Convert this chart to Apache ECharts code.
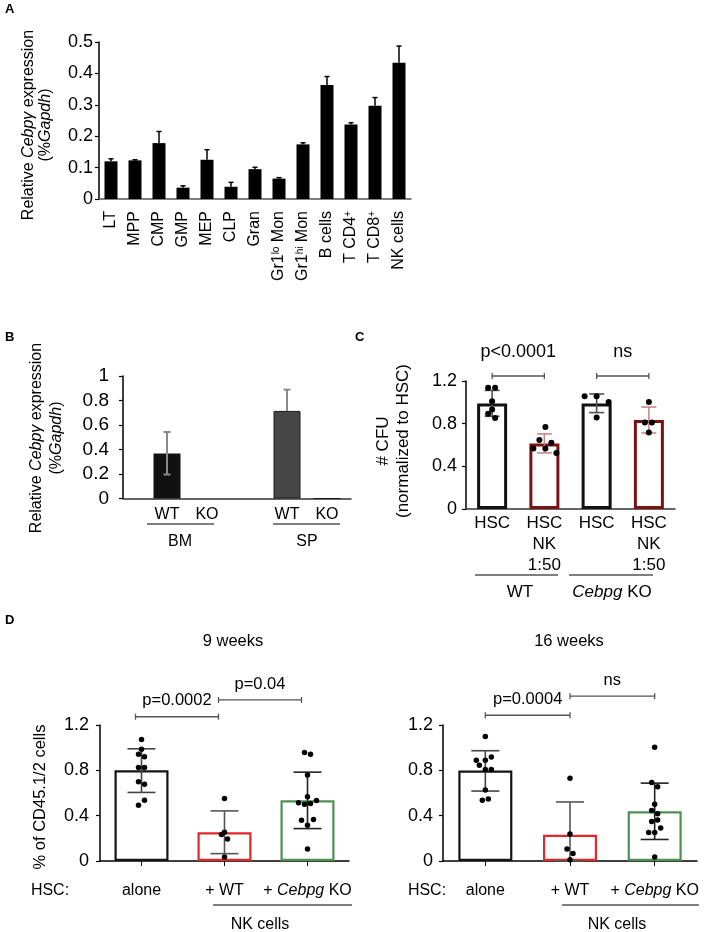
<!DOCTYPE html>
<html>
<head>
<meta charset="utf-8">
<script src="https://cdn.jsdelivr.net/npm/echarts@6/dist/echarts.min.js"></script>
<style>
html,body{margin:0;padding:0;background:#fff;}
#chart{width:708px;height:932px;}
</style>
</head>
<body>
<div id="chart"></div>
<script>
// ---------------- DATA ----------------
// Panel A
const catsA = ['LT','MPP','CMP','GMP','MEP','CLP','Gran','Gr1{s|lo} Mon','Gr1{s|hi} Mon','B cells','T CD4{s|+}','T CD8{s|+}','NK cells'];
const meanA = [0.120,0.123,0.178,0.036,0.125,0.039,0.095,0.065,0.174,0.363,0.237,0.297,0.434];
const upperA = [0.128,0.125,0.215,0.042,0.157,0.053,0.101,0.068,0.179,0.390,0.243,0.323,0.487];
const ticksA = {min:0, max:0.5, interval:0.1};

// Panel B
const catsB = ['WT','KO','','WT','KO'];
const groupsB = ['BM','SP'];
const meanB = [0.367, 0, null, 0.715, 0];
const upperB = [0.543, null, null, 0.889, null];
const lowerB = [0.196, null, null, null, null];
const ticksB = {min:0, max:1, interval:0.2};

// Panel C
const catsC = ['HSC','HSC\nNK\n1:50','HSC','HSC\nNK\n1:50'];
const groupsC = ['WT','{i|Cebpg} KO'];
const meanC = [0.99, 0.615, 0.99, 0.835];
const lowC  = [0.869, 0.526, 0.904, 0.713];
const highC = [1.112, 0.704, 1.078, 0.956];
const ptsC = [
  [1.137,1.137,1.009,0.932,0.894,0.853],
  [0.769,0.648,0.620,0.567,0.567,0.526],
  [1.056,1.056,1.003,0.857],
  [1.003,0.810,0.810,0.717]
];
const bracketsC = [[0,1],[2,3]];
const bracketTextC = ['p<0.0001','ns'];
const ticksC = {min:0, max:1.2, interval:0.4};

// Panel D
const catsD = ['alone','+ WT','+ {i|Cebpg} KO'];
const titlesD = ['9 weeks','16 weeks'];
const meanD9 = [0.800, 0.254, 0.536];
const lowD9  = [0.605, 0.065, 0.286];
const highD9 = [0.990, 0.442, 0.784];
const ptsD9 = [
  [1.073,0.985,0.943,0.920,0.826,0.826,0.699,0.678,0.537,0.492],
  [0.552,0.254,0.233,0.195,0.035],
  [0.958,0.943,0.758,0.566,0.513,0.501,0.507,0.534,0.360,0.366,0.316,0.106]
];
const meanD16 = [0.798, 0.231, 0.438];
const lowD16  = [0.617, 0.000, 0.190];
const highD16 = [0.973, 0.521, 0.687];
const ptsD16 = [
  [1.098,0.888,0.888,0.917,0.845,0.807,0.807,0.626,0.536,0.548],
  [0.731,0.239,0.105,0.067,0.012],
  [1.004,0.693,0.655,0.501,0.445,0.417,0.349,0.362,0.292,0.251,0.251,0.035]
];
const bracketsD = [[0,1],[1,2]];
const bracketTextD9 = ['p=0.0002','p=0.04'];
const bracketTextD16 = ['p=0.0004','ns'];
const ticksD = {min:0, max:1.2, interval:0.4};

// ---------------- STYLE (jitter, colours, levels) ----------------
const jitC = [[-4,3,0,0,-4,3],[1,-5,7,-11,1,12],[-12,0,12,0],[0,-4,3,0]];
const jitD9 = [[0,0,-3,3,-3,3,-3,3,3,-3],[0,0,-3,3,0],[-3,3,0,0,-9,-3,3,9,-6,6,0,0]];
const jitD16 = [[0,-9,0,6,-6,0,6,0,-3,3],[0,0,-3,3,0],[0,-3,3,0,-3,3,-3,3,6,-6,0,0]];
const colB = ['#111','#111','#111','#464646','#464646'];
const borderB = [0,0,0,1,1];
const colC = ['#111','#7a1214','#111','#7a1214'];
const errColC = ['#505050','#c98686','#505050','#c98686'];
const colD = ['#141414','#e2262c','#4f9153'];
const errColD = ['#444','#555','#222'];
const bracketLevelC = [1.247, 1.247];
const bracketLevelD9 = [1.273, 1.421];
const bracketLevelD16 = [1.286, 1.454];

const FF = "'Liberation Sans', Arial, sans-serif";

// ---------------- HELPERS ----------------
function whisker(cap, colors, lw) {
  return function (params, api) {
    const i = api.value(0), from = api.value(1), to = api.value(2), hasCap = api.value(3);
    const p1 = api.coord([i, from]), p2 = api.coord([i, to]);
    const c = colors[i % colors.length];
    const ch = [{type:'line', shape:{x1:p1[0],y1:p1[1],x2:p2[0],y2:p2[1]}, style:{stroke:c,lineWidth:lw}}];
    if (hasCap) ch.push({type:'line', shape:{x1:p2[0]-cap/2,y1:p2[1],x2:p2[0]+cap/2,y2:p2[1]}, style:{stroke:c,lineWidth:lw}});
    return {type:'group', children:ch};
  };
}
function bracket(texts, fontSize, dx, gap, tickH) {
  return function (params, api) {
    const a = api.value(0), y = api.value(1), b = api.value(2);
    const p1 = api.coord([a, y]), p2 = api.coord([b, y]);
    const x1 = p1[0] + dx, x2 = p2[0] + dx, yy = p1[1];
    const st = {stroke:'#555', lineWidth:1.3};
    return {type:'group', children:[
      {type:'line', shape:{x1:x1,y1:yy,x2:x2,y2:yy}, style:st},
      {type:'line', shape:{x1:x1,y1:yy-tickH/2,x2:x1,y2:yy+tickH/2}, style:st},
      {type:'line', shape:{x1:x2,y1:yy-tickH/2,x2:x2,y2:yy+tickH/2}, style:st},
      {type:'text', x:(x1+x2)/2, y:yy-gap, style:{text:texts[params.dataIndex], fill:'#000', fontSize:fontSize, fontFamily:FF, align:'center', verticalAlign:'middle'}}
    ]};
  };
}
function whiskerData(mean, lo, hi) {
  const d = [];
  mean.forEach((m, i) => {
    if (m == null) return;
    if (hi && hi[i] != null) d.push([i, m, hi[i], 1]);
    if (lo && lo[i] != null) d.push([i, m, lo[i], 1]);
  });
  return d;
}
function dotData(pts, jit) {
  const d = [];
  pts.forEach((arr, i) => arr.forEach((v, k) => d.push({value:[i, v], symbolOffset:[jit[i][k], 0]})));
  return d;
}
function yAxisCfg(grid, t, fs, margin) {
  return {type:'value', gridIndex:grid, min:t.min, max:t.max, interval:t.interval,
    axisLine:{show:true, lineStyle:{color:'#000', width:1.5}},
    axisTick:{show:true, length:4, lineStyle:{color:'#000', width:1.2}},
    axisLabel:{fontSize:fs, color:'#000', margin:margin, fontFamily:FF},
    splitLine:{show:false}};
}

// ---------------- OPTION ----------------
const grids = [
  {left:99, top:42, width:312, height:157},      // A
  {left:123, top:376, width:228, height:122.5},  // B frame
  {left:147, top:376, width:200, height:122.5},  // B bars
  {left:466, top:381, width:209, height:128},    // C
  {left:100, top:725, width:249, height:136},    // D 9 weeks
  {left:443, top:725, width:254, height:136}     // D 16 weeks
];

const xAxes = [
  {type:'category', gridIndex:0, data:catsA,
    axisLine:{lineStyle:{color:'#555', width:1.5}}, axisTick:{show:false},
    axisLabel:{interval:0, rotate:90, margin:12, color:'#000', fontSize:16, fontFamily:FF,
      rich:{s:{fontSize:10, verticalAlign:'top', fontFamily:FF, color:'#000'}}}},
  {type:'value', gridIndex:1, min:0, max:1, axisLine:{show:true, lineStyle:{color:'#333', width:1.5}},
    axisTick:{show:false}, axisLabel:{show:false}, splitLine:{show:false}},
  {type:'category', gridIndex:2, data:catsB, axisLine:{show:false}, axisTick:{show:false},
    axisLabel:{interval:0, margin:8, fontSize:16, color:'#000', fontFamily:FF}},
  {type:'category', gridIndex:3, data:catsC, axisLine:{lineStyle:{color:'#333', width:1.5}}, axisTick:{show:false},
    axisLabel:{interval:0, margin:4, fontSize:17, lineHeight:21, color:'#000', fontFamily:FF}},
  {type:'category', gridIndex:4, data:catsD, axisLine:{lineStyle:{color:'#000', width:1.5}},
    axisTick:{show:true, alignWithLabel:true, length:5, lineStyle:{color:'#000'}},
    axisLabel:{interval:0, margin:22, fontSize:16, color:'#000', fontFamily:FF,
      rich:{i:{fontStyle:'italic', fontSize:16, fontFamily:FF, color:'#000'}}}},
  {type:'category', gridIndex:5, data:catsD, axisLine:{lineStyle:{color:'#000', width:1.5}},
    axisTick:{show:true, alignWithLabel:true, length:5, lineStyle:{color:'#000'}},
    axisLabel:{interval:0, margin:22, fontSize:16, color:'#000', fontFamily:FF,
      rich:{i:{fontStyle:'italic', fontSize:16, fontFamily:FF, color:'#000'}}}}
];

const yAxes = [
  yAxisCfg(0, ticksA, 18, 6),
  yAxisCfg(1, ticksB, 19, 14),
  {type:'value', gridIndex:2, min:ticksB.min, max:ticksB.max, show:false},
  yAxisCfg(3, ticksC, 18, 9),
  yAxisCfg(4, ticksD, 18, 11),
  yAxisCfg(5, ticksD, 18, 10)
];

function panelSeries(xi, mean, lo, hi, pts, jit, borders, errCols, barW, bw, cap, dotSize, bLevels, bTexts, bFont, bDx, bGap) {
  return [
    {type:'bar', xAxisIndex:xi, yAxisIndex:xi, barWidth:barW, z:2,
      data: mean.map((m, i) => ({value:m, itemStyle:{color:'#fff', borderColor:borders[i], borderWidth:bw}}))},
    {type:'custom', xAxisIndex:xi, yAxisIndex:xi, z:3, renderItem: whisker(cap, errCols, 1.6),
      data: whiskerData(mean, lo, hi)},
    {type:'scatter', xAxisIndex:xi, yAxisIndex:xi, z:4, symbolSize:dotSize, itemStyle:{color:'#000', opacity:1},
      data: dotData(pts, jit)},
    {type:'custom', xAxisIndex:xi, yAxisIndex:xi, z:5, clip:false, renderItem: bracket(bTexts, bFont, bDx, bGap, 6),
      data: (xi === 3 ? bracketsC : bracketsD).map((p, k) => [p[0], bLevels[k], p[1]])}
  ];
}

const series = [
  {type:'bar', xAxisIndex:0, yAxisIndex:0, barWidth:13, itemStyle:{color:'#000'}, data:meanA, z:2},
  {type:'custom', xAxisIndex:0, yAxisIndex:0, z:3, renderItem: whisker(5, ['#000'], 1.5),
    data: whiskerData(meanA, null, upperA)},
  {type:'bar', xAxisIndex:2, yAxisIndex:2, barWidth:27, z:2,
    data: meanB.map((m, i) => m == null ? '-' : ({value:m, itemStyle:{color:colB[i], borderColor:'#1a1a1a', borderWidth:borderB[i]}}))},
  {type:'custom', xAxisIndex:2, yAxisIndex:2, z:3, renderItem: whisker(7, ['#8a8a8a'], 2),
    data: whiskerData(meanB, lowerB, upperB)}
].concat(
  panelSeries(3, meanC, lowC, highC, ptsC, jitC, colC, errColC, 30, 3, 15, 6, bracketLevelC, bracketTextC, 18, 0, 24),
  panelSeries(4, meanD9, lowD9, highD9, ptsD9, jitD9, colD, errColD, 54, 2.2, 28, 5.5, bracketLevelD9, bracketTextD9, 16.5, -6, 16),
  panelSeries(5, meanD16, lowD16, highD16, ptsD16, jitD16, colD, errColD, 54, 2.2, 28, 5.5, bracketLevelD16, bracketTextD16, 16.5, 0, 16)
);

function txt(x, y, text, size, extra) {
  return {type:'text', x:x, y:y, style:Object.assign({text:text, fill:'#000', fontSize:size, fontFamily:FF, align:'center', verticalAlign:'middle'}, extra || {})};
}
function rtxt(x, y, text, size, lh) {
  return {type:'text', x:x, y:y, rotation:Math.PI/2, style:{text:text, fill:'#000', fontSize:size, fontFamily:FF, align:'center', verticalAlign:'middle', lineHeight:lh,
    rich:{n:{fontSize:size, fontFamily:FF, lineHeight:lh, fill:'#000'}, i:{fontSize:size, fontFamily:FF, fontStyle:'italic', lineHeight:lh, fill:'#000'}}}};
}
function hline(x1, x2, y) {
  return {type:'line', shape:{x1:x1, y1:y, x2:x2, y2:y}, style:{stroke:'#000', lineWidth:1.2}};
}
const richI = {i:{fontStyle:'italic', fontSize:17, fontFamily:FF, fill:'#000'}, n:{fontSize:17, fontFamily:FF, fill:'#000'}};

const graphic = [
  txt(5, 9, 'A', 13, {fontWeight:'bold', align:'left'}),
  txt(5, 337, 'B', 13, {fontWeight:'bold', align:'left'}),
  txt(355, 337, 'C', 13, {fontWeight:'bold', align:'left'}),
  txt(5, 620, 'D', 13, {fontWeight:'bold', align:'left'}),
  rtxt(37, 125, '{n|Relative }{i|Cebpγ}{n| expression}\n{n|(%}{i|Gapdh}{n|)}', 16, 17),
  rtxt(47, 438, '{n|Relative }{i|Cebpγ}{n| expression}\n{n|(%}{i|Gapdh}{n|)}', 16, 20),
  rtxt(393, 441, '{n|# CFU}\n{n|(normalized to HSC)}', 17, 20),
  rtxt(40, 797, '{n|% of CD45.1/2 cells}', 16.5, 20),
  // B groups
  hline(147, 214, 524), hline(273, 340, 524),
  txt(180, 542, groupsB[0], 16), txt(307, 542, groupsB[1], 16),
  // C groups
  hline(475, 558, 575), hline(569, 653, 575),
  txt(520, 592, '{n|' + groupsC[0] + '}', 17, {rich:richI}),
  txt(612, 592, groupsC[1].replace(' KO', '{n| KO}'), 17, {rich:richI}),
  // D titles & labels
  txt(233, 641, titlesD[0], 16.5), txt(569, 641, titlesD[1], 16.5),
  txt(50, 891, 'HSC:', 16), txt(427, 891, 'HSC:', 16),
  hline(213, 352, 905), hline(562, 699, 905),
  txt(260, 925, 'NK cells', 16), txt(617, 925, 'NK cells', 16)
];

const chart = echarts.init(document.getElementById('chart'), null, {renderer:'canvas'});
chart.setOption({
  animation:false,
  backgroundColor:'#fff',
  textStyle:{fontFamily:FF, color:'#000'},
  grid:grids, xAxis:xAxes, yAxis:yAxes, series:series, graphic:graphic
});
</script>
</body>
</html>
